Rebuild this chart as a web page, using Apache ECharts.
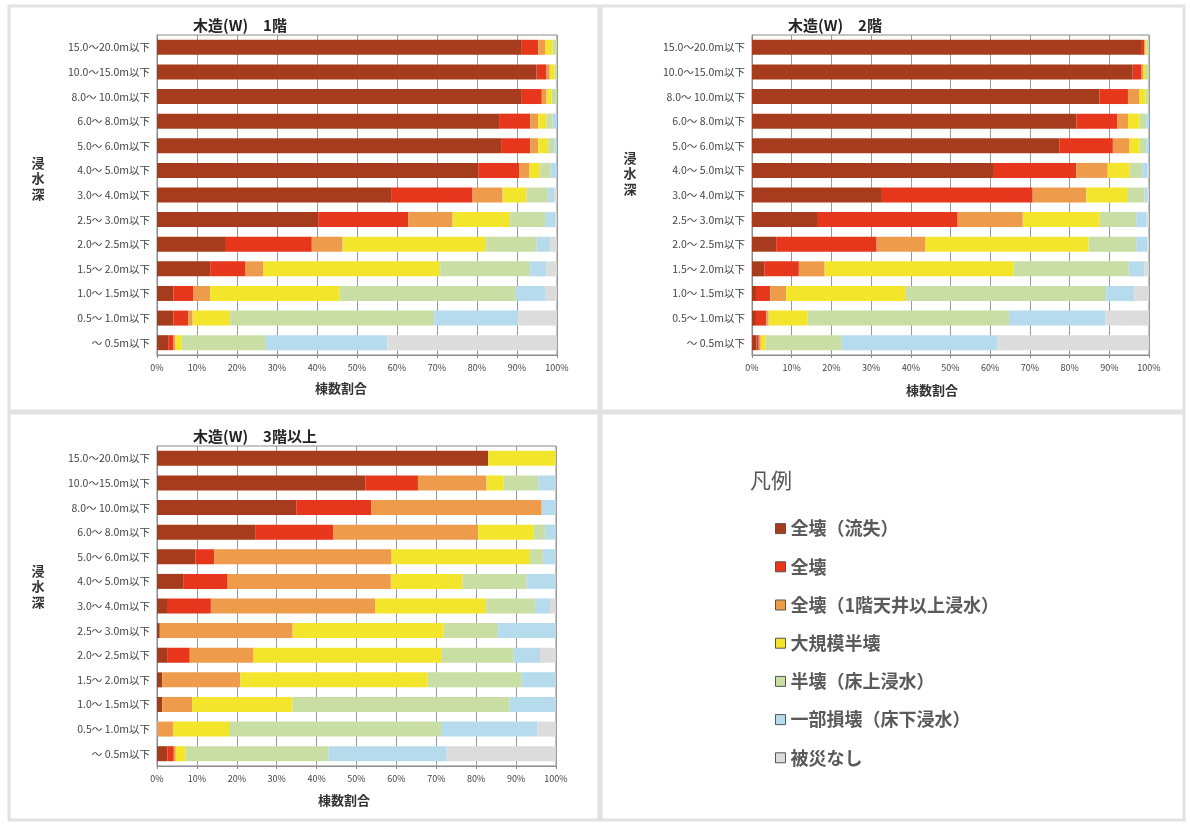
<!DOCTYPE html>
<html>
<head>
<meta charset="utf-8">
<script src="https://cdn.jsdelivr.net/npm/echarts@6/dist/echarts.min.js"></script>
<style>
  html, body { margin: 0; padding: 0; background: #ffffff; }
  #chart { width: 1190px; height: 824px; }
</style>
</head>
<body>
<div id="chart"></div>
<script>
// 浸水深区分（上から順）
const depthCategories = [
  '15.0～20.0m以下', '10.0～15.0m以下', '8.0～ 10.0m以下', '6.0～ 8.0m以下',
  '5.0～ 6.0m以下', '4.0～ 5.0m以下', '3.0～ 4.0m以下', '2.5～ 3.0m以下',
  '2.0～ 2.5m以下', '1.5～ 2.0m以下', '1.0～ 1.5m以下', '0.5～ 1.0m以下', '～ 0.5m以下'
];
const damageClasses = ['全壊（流失）', '全壊', '全壊（1階天井以上浸水）', '大規模半壊', '半壊（床上浸水）', '一部損壊（床下浸水）', '被災なし'];
const xTickLabels = ['0%', '10%', '20%', '30%', '40%', '50%', '60%', '70%', '80%', '90%', '100%'];

// 木造(W) 1階 ― 被災区分ごとの棟数割合(%)
const f1WashedAway = [91.2, 94.9, 91.2, 85.7, 86.2, 80.3, 58.7, 40.3, 17.0, 13.3, 4.1, 4.1, 2.8];
const f1Total      = [4.1, 2.5, 5.0, 7.6, 7.1, 10.3, 20.2, 22.5, 21.7, 8.7, 5.0, 3.7, 1.3];
const f1Ceiling    = [1.7, 0.8, 1.2, 2.0, 2.0, 2.5, 7.5, 11.1, 7.7, 4.6, 4.2, 1.1, 0.5];
const f1Major      = [1.9, 1.2, 1.2, 2.1, 2.5, 2.7, 6.0, 14.4, 35.9, 44.2, 32.3, 9.4, 1.6];
const f1Half       = [1.1, 0.6, 1.4, 1.5, 1.6, 2.6, 5.4, 8.7, 12.6, 22.5, 43.9, 51.0, 20.8];
const f1Partial    = [0, 0, 0, 1.1, 0.6, 1.6, 1.5, 2.5, 3.4, 4.1, 7.5, 21.0, 30.6];
const f1None       = [0, 0, 0, 0, 0, 0, 0.7, 0.5, 1.7, 2.6, 3.0, 9.7, 42.4];

// 木造(W) 2階
const f2WashedAway = [98.0, 95.9, 87.5, 81.7, 77.5, 60.7, 32.5, 16.6, 6.1, 3.1, 1.0, 1.0, 1.1];
const f2Total      = [0.9, 2.1, 7.2, 10.3, 13.4, 21.0, 38.2, 35.2, 25.3, 8.7, 3.6, 2.6, 0.6];
const f2Ceiling    = [0, 0.5, 2.9, 2.7, 4.2, 7.9, 13.5, 16.4, 12.3, 6.5, 4.0, 0.6, 0.5];
const f2Major      = [0.5, 0.5, 1.5, 2.9, 2.5, 5.5, 10.5, 19.3, 41.1, 47.6, 30.2, 9.8, 1.2];
const f2Half       = [0.6, 1.0, 0.9, 1.7, 1.7, 3.2, 4.2, 9.3, 12.0, 29.0, 50.4, 50.7, 19.1];
const f2Partial    = [0, 0, 0, 0.7, 0.7, 1.2, 0.6, 2.6, 2.8, 4.0, 7.1, 24.3, 39.4];
const f2None       = [0, 0, 0, 0, 0, 0.5, 0.5, 0.6, 0.4, 1.1, 3.7, 11.0, 38.1];

// 木造(W) 3階以上
const f3WashedAway = [83.0, 52.2, 34.9, 24.6, 9.6, 6.7, 2.5, 0.7, 2.7, 1.3, 1.3, 0, 2.6];
const f3Total      = [0, 13.2, 18.8, 19.6, 4.7, 11.0, 11.0, 0, 5.5, 0, 0, 0, 1.6];
const f3Ceiling    = [0, 17.2, 42.7, 36.3, 44.5, 40.9, 41.2, 33.3, 16.0, 19.6, 7.5, 4.0, 0.5];
const f3Major      = [17.0, 4.2, 0, 13.8, 34.7, 18.0, 27.8, 37.8, 47.2, 46.9, 25.2, 14.3, 2.4];
const f3Half       = [0, 8.8, 0, 2.9, 3.2, 16.0, 12.2, 13.7, 17.9, 23.6, 54.3, 52.9, 35.9];
const f3Partial    = [0, 4.4, 3.6, 2.8, 3.3, 7.4, 3.8, 14.5, 6.7, 8.6, 11.7, 24.1, 29.6];
const f3None       = [0, 0, 0, 0, 0, 0, 1.5, 0, 4.0, 0, 0, 4.7, 27.4];

const classColors = ['#A63C1D', '#E6361C', '#EE9C4C', '#F3E52C', '#C9DEA5', '#B5DBEC', '#DCDCDC'];

const panels = [
  { title: '木造(W)　1階',    series: [f1WashedAway, f1Total, f1Ceiling, f1Major, f1Half, f1Partial, f1None],
    grid: { left: 157, top: 35, width: 400, height: 320 }, titlePos: [188, 13],
    yName: [38, 155], xName: [341, 388] },
  { title: '木造(W)　2階',    series: [f2WashedAway, f2Total, f2Ceiling, f2Major, f2Half, f2Partial, f2None],
    grid: { left: 752, top: 35, width: 397, height: 320 }, titlePos: [783, 13],
    yName: [630, 150], xName: [932, 390] },
  { title: '木造(W)　3階以上', series: [f3WashedAway, f3Total, f3Ceiling, f3Major, f3Half, f3Partial, f3None],
    grid: { left: 157, top: 446, width: 399, height: 320 }, titlePos: [188, 424],
    yName: [38, 563], xName: [344, 800] }
];

const baseFont = '"Noto Sans CJK JP", "Noto Sans", sans-serif';

const grids = [], xAxes = [], yAxes = [], series = [], titles = [], graphics = [];

// パネルの枠
[[9, 6, 590, 405], [601, 6, 583, 405], [9, 413, 590, 407], [601, 413, 583, 407]].forEach(function (r) {
  graphics.push({ type: 'rect', shape: { x: r[0], y: r[1], width: r[2], height: r[3] },
    style: { fill: 'none', stroke: '#e2e2e2', lineWidth: 3 }, silent: true, z: -1 });
});

panels.forEach(function (p, i) {
  grids.push(Object.assign({ show: true, borderColor: '#8a8a8a', borderWidth: 1, backgroundColor: '#ffffff' }, p.grid));
  xAxes.push({
    type: 'value', gridIndex: i, min: 0, max: 100, interval: 10,
    axisLine: { show: true, lineStyle: { color: '#8a8a8a' } },
    axisTick: { show: true, length: 3, lineStyle: { color: '#8a8a8a' } },
    splitLine: { show: true, lineStyle: { color: '#9a9a9a', width: 1 } },
    axisLabel: { fontSize: 9, color: '#444', margin: 8, fontFamily: baseFont,
      formatter: function (v) { return xTickLabels[Math.round(v / 10)]; } }
  });
  yAxes.push({
    type: 'category', gridIndex: i, data: depthCategories, inverse: true,
    axisLine: { show: true, lineStyle: { color: '#8a8a8a' } },
    axisTick: { show: false },
    splitLine: { show: false },
    axisLabel: { fontSize: 10.5, color: '#444', margin: 7, fontFamily: baseFont }
  });
  titles.push({ text: p.title, left: p.titlePos[0], top: p.titlePos[1],
    textStyle: { fontSize: 15, fontWeight: 'bold', color: '#222', fontFamily: baseFont } });
  graphics.push({ type: 'text', x: p.yName[0], y: p.yName[1], silent: true,
    style: { text: '浸\n水\n深', font: 'bold 13px ' + baseFont, fill: '#333', align: 'center', lineHeight: 15.5 } });
  graphics.push({ type: 'text', x: p.xName[0], y: p.xName[1], silent: true,
    style: { text: '棟数割合', font: 'bold 13px ' + baseFont, fill: '#333', align: 'center', verticalAlign: 'middle' } });
  p.series.forEach(function (values, k) {
    series.push({
      type: 'bar', name: damageClasses[k], xAxisIndex: i, yAxisIndex: i, stack: 'floor' + i,
      data: values, barWidth: 15, itemStyle: { color: classColors[k] },
      emphasis: { disabled: true }, animation: false
    });
  });
});

// 凡例見出し
graphics.push({ type: 'text', x: 750, y: 470, silent: true,
  style: { text: '凡例', font: '21px ' + baseFont, fill: '#555' } });

const chart = echarts.init(document.getElementById('chart'), null, { renderer: 'canvas' });
chart.setOption({
  backgroundColor: '#ffffff',
  animation: false,
  title: titles,
  grid: grids,
  xAxis: xAxes,
  yAxis: yAxes,
  series: series,
  graphic: graphics,
  legend: {
    orient: 'vertical', left: 770, top: 514,
    data: damageClasses,
    itemWidth: 10, itemHeight: 10, itemGap: 19,
    icon: 'rect',
    itemStyle: { borderColor: '#555', borderWidth: 1 },
    textStyle: { fontSize: 18, lineHeight: 19.2, color: '#5a5a5a', fontWeight: 'bold', fontFamily: baseFont },
    selectedMode: false
  }
});
</script>
</body>
</html>
